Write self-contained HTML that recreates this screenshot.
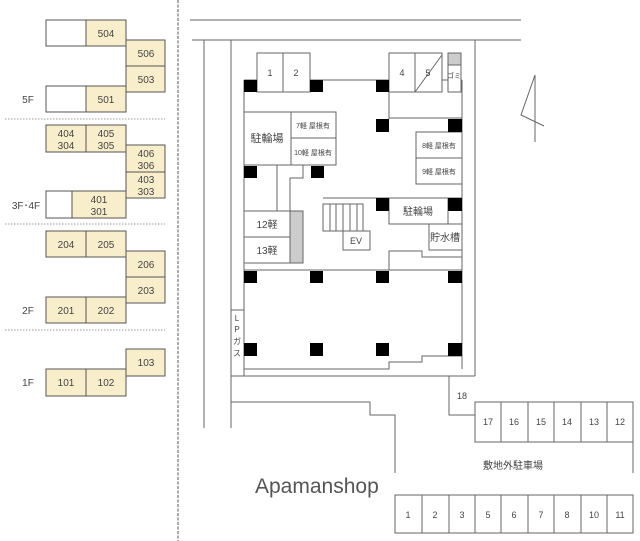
<!DOCTYPE html>
<html><head><meta charset="utf-8"><style>
html,body{margin:0;padding:0;background:#fff;}
svg{display:block;}
text{font-family:"Liberation Sans","Noto Sans CJK JP",sans-serif;fill:#444;}
</style></head><body>
<svg width="640" height="541" viewBox="0 0 640 541" xmlns="http://www.w3.org/2000/svg">
<g stroke="#555" stroke-width="1" fill="#f9eecb">
<rect x="46" y="20" width="40" height="26" fill="#fff"/><rect x="86" y="20" width="40" height="26"/>
<rect x="126" y="40" width="39" height="26"/><rect x="126" y="66" width="39" height="26"/>
<rect x="46" y="86" width="40" height="26" fill="#fff"/><rect x="86" y="86" width="40" height="26"/>
<rect x="46" y="125" width="40" height="27"/><rect x="86" y="125" width="40" height="27"/>
<rect x="126" y="145" width="39" height="27"/><rect x="126" y="172" width="39" height="26"/>
<rect x="46" y="191" width="26" height="27" fill="#fff"/><rect x="72" y="191" width="54" height="27"/>
<rect x="46" y="231" width="40" height="26"/><rect x="86" y="231" width="40" height="26"/>
<rect x="126" y="251" width="39" height="26"/><rect x="126" y="277" width="39" height="26"/>
<rect x="46" y="297" width="40" height="26"/><rect x="86" y="297" width="40" height="26"/>
<rect x="126" y="349" width="39" height="27"/>
<rect x="46" y="369" width="40" height="27"/><rect x="86" y="369" width="40" height="27"/>
</g>
<g font-size="10" text-anchor="middle">
<text x="106" y="37">504</text><text x="146" y="57">506</text><text x="146" y="83">503</text><text x="106" y="103">501</text>
<text x="66" y="137">404</text><text x="66" y="149">304</text><text x="106" y="137">405</text><text x="106" y="149">305</text>
<text x="146" y="157">406</text><text x="146" y="169">306</text><text x="146" y="183">403</text><text x="146" y="195">303</text>
<text x="99" y="203">401</text><text x="99" y="215">301</text>
<text x="66" y="248">204</text><text x="106" y="248">205</text><text x="146" y="268">206</text><text x="146" y="294">203</text>
<text x="66" y="314">201</text><text x="106" y="314">202</text><text x="146" y="366">103</text>
<text x="66" y="386">101</text><text x="106" y="386">102</text>
<text x="28" y="103">5F</text><text x="26" y="209">3F･4F</text><text x="28" y="314">2F</text><text x="28" y="386">1F</text>
</g>
<g stroke="#999" stroke-dasharray="1.5 1.5"><line x1="5" y1="119" x2="165" y2="119"/><line x1="5" y1="224" x2="165" y2="224"/><line x1="5" y1="330" x2="165" y2="330"/></g>
<line x1="178" y1="0" x2="178" y2="541" stroke="#555" stroke-dasharray="3 1.5"/>
<g stroke="#666" fill="none" stroke-width="1">
<line x1="190" y1="20" x2="521" y2="20"/><line x1="192" y1="40" x2="521" y2="40"/>
<line x1="204" y1="40" x2="204" y2="428"/>
<line x1="231" y1="40" x2="231" y2="428"/><line x1="231" y1="40" x2="475" y2="40"/>
<line x1="475" y1="40" x2="475" y2="376"/><line x1="231" y1="376" x2="475" y2="376"/>
<polyline points="231,402 370,402 370,415 395,415 395,473"/>
<polyline points="449,376 449,415 475,415"/>
<rect x="475" y="402" width="158" height="40" fill="#fff"/>
<line x1="633" y1="442" x2="633" y2="473"/>
<rect x="395" y="495" width="238" height="38" fill="#fff"/>
<polyline points="535,75 521,115 544,126"/><line x1="535" y1="75" x2="535" y2="142"/>
<!-- building -->
<line x1="244" y1="80" x2="244" y2="369"/><line x1="462" y1="80" x2="462" y2="369"/>
<line x1="244" y1="80" x2="462" y2="80"/>
<rect x="257" y="53" width="53" height="39" fill="#fff"/><line x1="283" y1="53" x2="283" y2="92"/>
<rect x="389" y="53" width="53" height="39" fill="#fff"/><line x1="415" y1="53" x2="415" y2="92"/><line x1="415" y1="92" x2="442" y2="55"/>
<rect x="448" y="53" width="13" height="39" fill="#fff"/><rect x="448" y="53" width="13" height="12" fill="#ccc"/>
<line x1="389" y1="92" x2="389" y2="119"/><line x1="389" y1="118" x2="462" y2="118"/>
<rect x="244" y="112" width="47" height="53" fill="#fff"/>
<rect x="291" y="112" width="45" height="26" fill="#fff"/><rect x="291" y="138" width="45" height="27" fill="#fff"/>
<rect x="416" y="132" width="46" height="26" fill="#fff"/><rect x="416" y="158" width="46" height="26" fill="#fff"/>
<line x1="277" y1="165" x2="277" y2="211"/>
<polyline points="303,165 303,178 290,178 290,211"/>
<rect x="244" y="211" width="46" height="26" fill="#fff"/><rect x="244" y="237" width="46" height="26" fill="#fff"/>
<rect x="290" y="211" width="13" height="52" fill="#ccc"/>
<line x1="323" y1="198" x2="462" y2="198"/>
<rect x="323" y="204" width="40" height="27" fill="#fff"/>
<line x1="330" y1="204" x2="330" y2="231"/><line x1="336" y1="204" x2="336" y2="231"/><line x1="343" y1="204" x2="343" y2="231"/><line x1="350" y1="204" x2="350" y2="231"/><line x1="357" y1="204" x2="357" y2="231"/>
<rect x="343" y="231" width="27" height="19" fill="#fff"/>
<rect x="389" y="198" width="59" height="26" fill="#fff"/>
<rect x="429" y="224" width="33" height="26" fill="#fff"/>
<polyline points="389,270 389,251 422,251 422,257 462,257"/>
<line x1="244" y1="270" x2="462" y2="270"/>
<rect x="231" y="310" width="13" height="66" fill="#fff"/>
<polyline points="244,369 389,369 389,362 422,362 422,356 462,356"/>
</g>
<g fill="#000">
<rect x="244" y="80" width="13" height="12"/><rect x="310" y="80" width="13" height="12"/><rect x="376" y="80" width="13" height="12"/>
<rect x="376" y="119" width="13" height="13"/><rect x="448" y="119" width="14" height="13"/>
<rect x="244" y="166" width="13" height="12"/><rect x="311" y="166" width="13" height="12"/>
<rect x="376" y="198" width="13" height="13"/><rect x="448" y="198" width="14" height="13"/>
<rect x="244" y="271" width="13" height="12"/><rect x="310" y="271" width="13" height="12"/><rect x="376" y="271" width="13" height="12"/><rect x="448" y="271" width="14" height="12"/>
<rect x="244" y="343" width="13" height="13"/><rect x="310" y="343" width="13" height="13"/><rect x="376" y="343" width="13" height="13"/><rect x="448" y="343" width="14" height="13"/>
</g>
<g font-size="9" text-anchor="middle">
<text x="270" y="76">1</text><text x="296" y="76">2</text><text x="402" y="76">4</text><text x="428" y="76">5</text>
<text x="454" y="78" font-size="7">ゴミ</text>
<text x="267" y="142" font-size="11">駐輪場</text>
<text x="313" y="128" font-size="7">7軽 屋根有</text><text x="313" y="155" font-size="7">10軽 屋根有</text>
<text x="439" y="148" font-size="7">8軽 屋根有</text><text x="439" y="174" font-size="7">9軽 屋根有</text>
<text x="267" y="228" font-size="10">12軽</text><text x="267" y="254" font-size="10">13軽</text>
<text x="356" y="244">EV</text>
<text x="418" y="215" font-size="10">駐輪場</text><text x="445" y="241" font-size="10">貯水槽</text>
<text x="237" y="321" font-size="8">L</text><text x="237" y="332" font-size="8">P</text><text x="237" y="344" font-size="8">ガ</text><text x="237" y="356" font-size="8">ス</text>
<text x="462" y="399">18</text>
<text x="488" y="425">17</text><text x="514" y="425">16</text><text x="541" y="425">15</text><text x="567" y="425">14</text><text x="594" y="425">13</text><text x="620" y="425">12</text>
<text x="513" y="469" font-size="10">敷地外駐車場</text>
<text x="408" y="518">1</text><text x="435" y="518">2</text><text x="462" y="518">3</text><text x="488" y="518">5</text><text x="514" y="518">6</text><text x="541" y="518">7</text><text x="567" y="518">8</text><text x="594" y="518">10</text><text x="620" y="518">11</text>
</g>
<g stroke="#666"><line x1="283" y1="53" x2="283" y2="53"/>
<line x1="501" y1="402" x2="501" y2="442"/><line x1="528" y1="402" x2="528" y2="442"/><line x1="554" y1="402" x2="554" y2="442"/><line x1="581" y1="402" x2="581" y2="442"/><line x1="607" y1="402" x2="607" y2="442"/>
<line x1="422" y1="495" x2="422" y2="533"/><line x1="449" y1="495" x2="449" y2="533"/><line x1="475" y1="495" x2="475" y2="533"/><line x1="501" y1="495" x2="501" y2="533"/><line x1="528" y1="495" x2="528" y2="533"/><line x1="554" y1="495" x2="554" y2="533"/><line x1="581" y1="495" x2="581" y2="533"/><line x1="607" y1="495" x2="607" y2="533"/>
</g>
<text x="255" y="493" font-size="21" style="fill:#555">Apamanshop</text>
</svg>
</body></html>
